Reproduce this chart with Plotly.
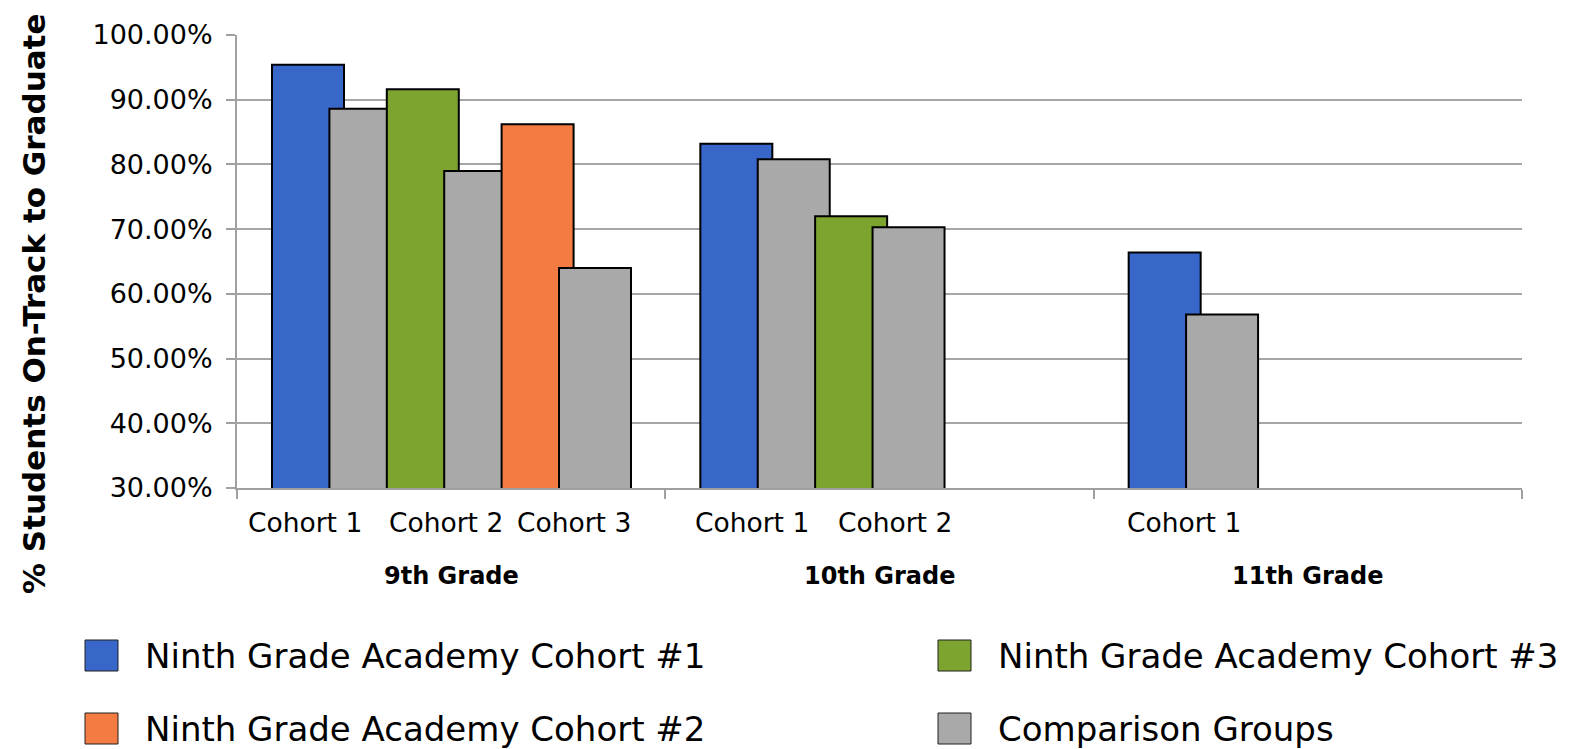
import plotly.graph_objects as go

# ---------------- data ----------------
grades = ["9th Grade", "10th Grade", "11th Grade"]
cohort_labels = [["Cohort 1", "Cohort 2", "Cohort 3"], ["Cohort 1", "Cohort 2"], ["Cohort 1"]]

academy_c1 = [0.954, 0.832, 0.664]          # Ninth Grade Academy Cohort #1 (blue)
comparison_c1 = [0.886, 0.808, 0.568]       # comparison for cohort 1
academy_c3 = [0.916, 0.720, None]           # legend "Cohort #3" (green)
comparison_c3 = [0.790, 0.703, None]
academy_c2 = [0.862, None, None]            # legend "Cohort #2" (orange)
comparison_c2 = [0.640, None, None]

y_ticks = [0.3, 0.4, 0.5, 0.6, 0.7, 0.8, 0.9, 1.0]

# ---------------- layout geometry ----------------
OFF = 8  # page body margin
W, H = 1569 - OFF, 749 - OFF
PLOT_L, PLOT_R, PLOT_T, PLOT_B = 237, 1522, 35, 488   # screen pixels
L = PLOT_L - OFF
T = PLOT_T - OFF
R = 1569 - PLOT_R
B = 749 - PLOT_B
PW = PLOT_R - PLOT_L
PH = PLOT_B - PLOT_T
GROUP_PX = PW / 3.0

BLUE = "#3866C9"
GRAY = "#A9A9A9"
GREEN = "#7EA430"
ORANGE = "#F47B41"

bar_w = 72 / GROUP_PX
step = 57.4 / GROUP_PX
first = 71 / GROUP_PX


def slot_x(slot):
    return [g + first + slot * step for g in range(len(grades))]


fig = go.Figure()
series = [
    (academy_c1, BLUE, 0),
    (comparison_c1, GRAY, 1),
    (academy_c3, GREEN, 2),
    (comparison_c3, GRAY, 3),
    (academy_c2, ORANGE, 4),
    (comparison_c2, GRAY, 5),
]
for vals, col, slot in series:
    xs = slot_x(slot)
    bx = [x for x, v in zip(xs, vals) if v is not None]
    by = [v for v in vals if v is not None]
    fig.add_trace(go.Bar(
        x=bx, y=by, width=bar_w,
        marker=dict(color=col, line=dict(color="black", width=2)),
        showlegend=False,
    ))


def ppx(px):
    return (px - PLOT_L) / PW


def ppy(py):
    return (PLOT_B - py) / PH


annotations = []
# cohort labels (screen-pixel centers)
cohort_centers = [[304.5, 445.7, 574.4], [751.7, 894.5], [1184.0]]
for gi, labs in enumerate(cohort_labels):
    for lab, cx in zip(labs, cohort_centers[gi]):
        annotations.append(dict(
            x=ppx(cx), y=ppy(522), xref="paper", yref="paper",
            text=lab, showarrow=False, xanchor="center", yanchor="middle",
            font=dict(family="DejaVu Sans", size=26.5, color="black"),
        ))
for gi, g in enumerate(grades):
    annotations.append(dict(
        x=gi + 0.5, y=ppy(576), xref="x", yref="paper",
        text="<b>%s</b>" % g, showarrow=False, xanchor="center", yanchor="middle",
        font=dict(family="DejaVu Sans", size=24, color="black"),
    ))

# y-axis title
annotations.append(dict(
    x=ppx(34), y=ppy(304), xref="paper", yref="paper",
    text="<b>% Students On-Track to Graduate</b>", textangle=-90,
    showarrow=False, xanchor="center", yanchor="middle",
    font=dict(family="DejaVu Sans", size=31, color="black"),
))

# legend (manual, two columns)
legend_items = [
    ("Ninth Grade Academy Cohort #1", BLUE, 85, 656),
    ("Ninth Grade Academy Cohort #3", GREEN, 938, 656),
    ("Ninth Grade Academy Cohort #2", ORANGE, 85, 729),
    ("Comparison Groups", GRAY, 938, 729),
]
shapes = []
for name, col, x0, yc in legend_items:
    shapes.append(dict(
        type="rect", xref="paper", yref="paper",
        x0=ppx(x0), x1=ppx(x0 + 33), y0=ppy(yc + 15), y1=ppy(yc - 16),
        fillcolor=col, line=dict(color="#202020", width=1),
    ))
    annotations.append(dict(
        x=ppx(x0 + 58), y=ppy(yc), xref="paper", yref="paper",
        text=name, showarrow=False, xanchor="left", yanchor="middle",
        font=dict(family="DejaVu Sans", size=34, color="black"),
    ))

fig.update_layout(
    width=W, height=H,
    margin=dict(l=L, r=R, t=T, b=B, pad=0),
    paper_bgcolor="white", plot_bgcolor="white",
    barmode="overlay",
    showlegend=False,
    annotations=annotations,
    shapes=shapes,
    xaxis=dict(
        range=[0, 3], showgrid=False, zeroline=False,
        tickvals=[0, 1, 2, 3], ticktext=["", "", "", ""],
        ticks="outside", ticklen=9, tickwidth=2, tickcolor="#A0A0A0",
        showline=True, linecolor="#A0A0A0", linewidth=2,
    ),
    yaxis=dict(
        range=[0.3, 1.0], tickvals=y_ticks, tickformat=".2%",
        showgrid=True, gridcolor="#A6A6A6", gridwidth=2, zeroline=False,
        ticks="outside", ticklen=9, tickwidth=2, tickcolor="#A0A0A0",
        showline=True, linecolor="#A0A0A0", linewidth=2,
        ticklabelstandoff=8,
        tickfont=dict(family="DejaVu Sans", size=27, color="black"),
    ),
)

fig.write_html("out.html")
